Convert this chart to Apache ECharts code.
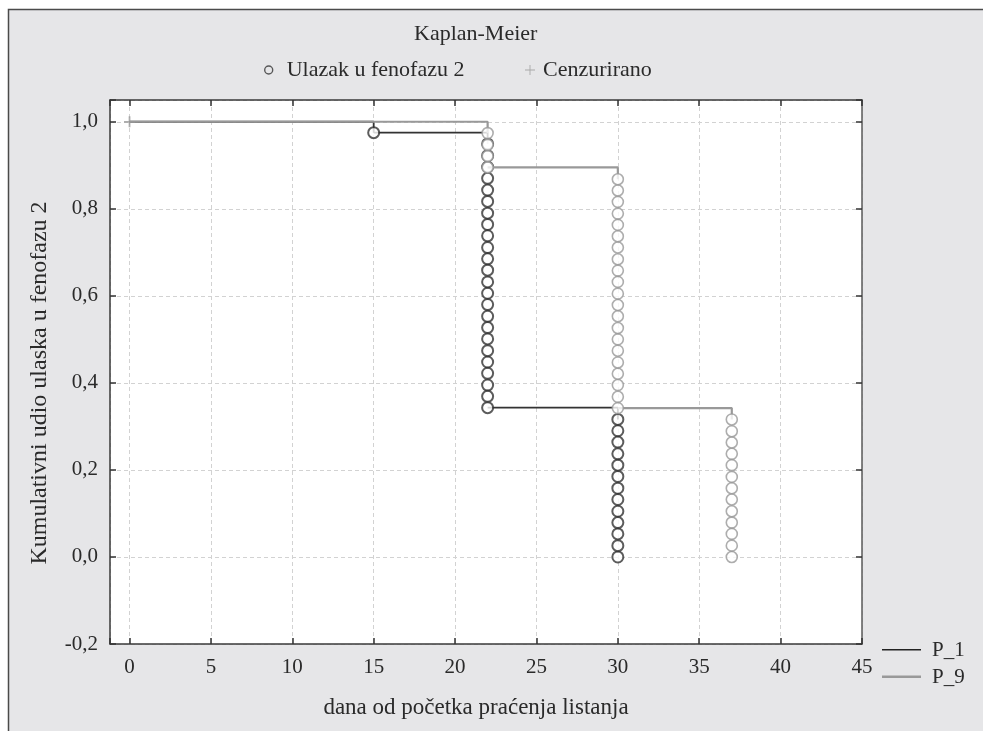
<!DOCTYPE html>
<html>
<head>
<meta charset="utf-8">
<script src="https://cdn.jsdelivr.net/npm/echarts@6/dist/echarts.min.js"></script>
<style>
html,body{margin:0;padding:0;background:#fff;}
#chart{width:983px;height:731px;}
</style>
</head>
<body>
<div id="chart"></div>
<script>
// ---- data ----
const titleText = 'Kaplan-Meier';
const xName = 'dana od početka praćenja listanja';
const yName = 'Kumulativni udio ulaska u fenofazu 2';

const groupNames = ['P_1', 'P_9'];
const eventName = 'Ulazak u fenofazu 2';
const censorName = 'Cenzurirano';

// step curves (time, cumulative proportion)
const p1Times = [0, 15, 22, 30];
const p1Surv  = [1.0, 0.975, 0.343, 0.0];
const p9Times = [0, 22, 30, 37];
const p9Surv  = [1.0, 0.895, 0.342, 0.0];

// event markers (circles) per event time
const p1EventTimes = [15, 22, 30];
const p1At15 = [0.975];
const p1At22 = [0.949,0.922,0.896,0.870,0.843,0.817,0.790,0.764,0.738,0.711,0.685,0.659,0.632,0.606,0.580,0.553,0.527,0.501,0.474,0.448,0.422,0.395,0.369,0.343];
const p1At30 = [0.316,0.290,0.264,0.237,0.211,0.185,0.158,0.132,0.105,0.079,0.053,0.026,0.000];

const p9EventTimes = [22, 30, 37];
const p9At22 = [0.974,0.947,0.921,0.895];
const p9At30 = [0.868,0.842,0.816,0.789,0.763,0.737,0.711,0.684,0.658,0.632,0.605,0.579,0.553,0.526,0.500,0.474,0.447,0.421,0.395,0.368,0.342];
const p9At37 = [0.316,0.289,0.263,0.237,0.211,0.184,0.158,0.132,0.105,0.079,0.053,0.026,0.000];

// censored observations
const censorTimes = [0];
const censorValues = [1.0];

// axis ranges
const xMin = -1.2, xMax = 45;
const yMin = -0.2, yMax = 1.05, yStep = 0.2;

// ---- build ----
const FONT = 'Liberation Serif';
const DARK = '#333333';
const GRAY = '#999999';

const p1Groups = [p1At15, p1At22, p1At30];
const p9Groups = [p9At22, p9At30, p9At37];

// KM curve: horizontal run, then a drop to the first event of the next time; circles show the rest
function kmPath(times, surv, groups){
  const out = [];
  for (let i = 1; i < times.length; i++){
    out.push([times[i-1], surv[i-1]], [times[i], surv[i-1]], [times[i], groups[i-1][0]], [times[i], '-']);
  }
  return out;
}
function eventData(times, groups){
  const out = [];
  times.forEach((t,i)=>groups[i].forEach(v=>out.push([t, v])));
  return out;
}
const p1Events = eventData(p1EventTimes, p1Groups);
const p9Events = eventData(p9EventTimes, p9Groups);
const censorData = censorTimes.map((t,i)=>[t, censorValues[i]]);

const plusPath = 'path://M0,4.2H4.2V0H5.8V4.2H10V5.8H5.8V10H4.2V5.8H0Z';
const plusThin = 'path://M0,4.55H4.55V0H5.45V4.55H10V5.45H5.45V10H4.55V5.45H0Z';
const lineIconThin  = 'path://M0,0H0.01V0.01H0Z M0,6H39V7.4H0Z M38.99,13.99H39V14H38.99Z';
const lineIconThick = 'path://M0,0H0.01V0.01H0Z M0,5.6H39V8H0Z M38.99,13.99H39V14H38.99Z';

function xFmt(v){ return (Math.abs(v/5 - Math.round(v/5)) < 1e-6) ? String(Math.round(v)) : ''; }
function yFmt(v){ return (Math.abs(v/yStep - Math.round(v/yStep)) < 1e-6) ? v.toFixed(1).replace('.', ',') : ''; }

const chart = echarts.init(document.getElementById('chart'), null, {renderer:'canvas'});
const axisLineStyle = {color:'#3a3a3a', width:1.5};
const tickStyle = {show:true, inside:true, length:6, lineStyle:{color:'#333', width:1.5}};
const option = {
  animation:false,
  backgroundColor:'#ffffff',
  textStyle:{fontFamily:FONT},
  graphic:{elements:[{
    type:'rect', z:-100, silent:true,
    shape:{x:8.5, y:9.5, width:1200, height:1000},
    style:{fill:'#e6e6e8', stroke:'#4a4a4a', lineWidth:1.5}
  }]},
  title:{
    text:titleText, left:414, top:22, padding:0,
    textStyle:{fontFamily:FONT, fontSize:22, fontWeight:'normal', color:'#2a2a2a', lineHeight:24}
  },
  legend:[
    {
      data:[{name:eventName, icon:'circle', itemStyle:{color:'rgba(0,0,0,0)', borderColor:DARK, borderWidth:1.4}}],
      left:264, top:58, padding:0, itemWidth:8, itemHeight:8,
      selectedMode:false,
      textStyle:{fontFamily:FONT, fontSize:22, color:'#2a2a2a', lineHeight:24, padding:[0,0,0,9]}
    },
    {
      data:[{name:censorName, icon:plusThin, itemStyle:{color:'#9a9a9a', borderWidth:0}}],
      left:525, top:58, padding:0, itemWidth:10, itemHeight:10,
      selectedMode:false,
      textStyle:{fontFamily:FONT, fontSize:22, color:'#2a2a2a', lineHeight:24, padding:[0,0,0,3]}
    },
    {
      data:[
        {name:groupNames[0], icon:lineIconThin, itemStyle:{color:'#222222', borderWidth:0}},
        {name:groupNames[1], icon:lineIconThick, itemStyle:{color:GRAY, borderWidth:0}}
      ],
      orient:'vertical', left:882, top:639, padding:0,
      itemWidth:39, itemHeight:14, itemGap:5, selectedMode:false,
      textStyle:{fontFamily:FONT, fontSize:21, color:'#2a2a2a', lineHeight:22, padding:[0,0,0,6]}
    }
  ],
  grid:{left:110, right:121, top:100, bottom:87, show:true, backgroundColor:'#ffffff', borderWidth:0},
  xAxis:[
    {
      type:'value', min:xMin, max:xMax, splitNumber:9, position:'bottom',
      name:xName, nameLocation:'middle', nameGap:52,
      nameTextStyle:{fontFamily:FONT, fontSize:23, color:'#2a2a2a', padding:[0,20,0,0]},
      axisLine:{show:true, onZero:false, lineStyle:axisLineStyle},
      axisTick:tickStyle,
      axisLabel:{formatter:xFmt, fontFamily:FONT, fontSize:21, color:'#2a2a2a', margin:13},
      splitLine:{show:true, lineStyle:{color:'#d2d2d2', type:[4,3], width:1}}
    },
    {
      type:'value', min:xMin, max:xMax, splitNumber:9, position:'top',
      axisLine:{show:true, onZero:false, lineStyle:axisLineStyle},
      axisTick:tickStyle,
      axisLabel:{show:false}, splitLine:{show:false}
    }
  ],
  yAxis:[
    {
      type:'value', min:yMin, max:yMax, interval:yStep, position:'left',
      name:yName, nameLocation:'middle', nameGap:58,
      nameTextStyle:{fontFamily:FONT, fontSize:24, color:'#2a2a2a', padding:[0,22,0,0]},
      axisLine:{show:true, onZero:false, lineStyle:axisLineStyle},
      axisTick:tickStyle,
      axisLabel:{formatter:yFmt, fontFamily:FONT, fontSize:21, color:'#2a2a2a', margin:12},
      splitLine:{show:true, lineStyle:{color:'#d2d2d2', type:[4,3], width:1}}
    },
    {
      type:'value', min:yMin, max:yMax, interval:yStep, position:'right',
      axisLine:{show:true, onZero:false, lineStyle:{color:'#5a5a5a', width:1.5}},
      axisTick:tickStyle,
      axisLabel:{show:false}, splitLine:{show:false}
    }
  ],
  series:[
    {
      name:groupNames[0], type:'line', data:kmPath(p1Times, p1Surv, p1Groups), connectNulls:false,
      symbol:'none', showSymbol:false, lineStyle:{color:DARK, width:1.8}, itemStyle:{color:DARK},
      silent:true, z:2
    },
    {
      name:'p1fill', type:'scatter', data:p1Events, symbol:'circle', symbolSize:10,
      itemStyle:{color:'#ffffff', borderWidth:0}, silent:true, z:3
    },
    {
      name:eventName, type:'scatter', data:p1Events, symbol:'circle', symbolSize:11,
      itemStyle:{color:'rgba(0,0,0,0)', borderColor:DARK, borderWidth:2},
      silent:true, z:4
    },
    {
      name:groupNames[1], type:'line', data:kmPath(p9Times, p9Surv, p9Groups), connectNulls:false,
      symbol:'none', showSymbol:false, lineStyle:{color:GRAY, width:2.2}, itemStyle:{color:GRAY},
      silent:true, z:5
    },
    {
      name:'p9fill', type:'scatter', data:p9Events, symbol:'circle', symbolSize:11,
      itemStyle:{color:'#ffffff', borderWidth:0}, silent:true, z:6
    },
    {
      name:eventName, type:'scatter', data:p9Events, symbol:'circle', symbolSize:11,
      itemStyle:{color:'rgba(0,0,0,0)', borderColor:GRAY, borderWidth:1.6},
      silent:true, z:7
    },
    {
      name:censorName, type:'scatter', data:censorData, symbol:plusPath, symbolSize:11,
      itemStyle:{color:GRAY}, silent:true, z:8
    }
  ]
};
chart.setOption(option);
</script>
</body>
</html>
